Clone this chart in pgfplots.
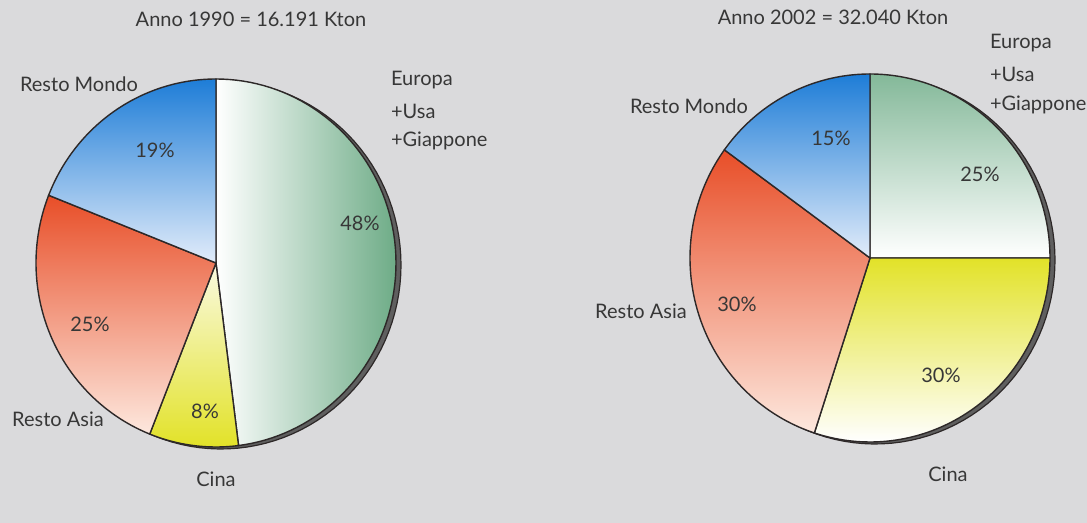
\documentclass[border=0pt]{standalone}
\usepackage{pgfplots}
\pgfplotsset{compat=1.18}
\usepackage{fontspec}
\setmainfont{Lato}

\definecolor{bg}{RGB}{218,218,220}
\definecolor{txt}{RGB}{55,55,55}
\definecolor{edge}{RGB}{45,40,40}
\definecolor{shadowc}{RGB}{95,95,95}
\definecolor{verde}{RGB}{110,172,135}
\definecolor{blu}{RGB}{30,125,215}
\definecolor{blul}{RGB}{226,236,250}
\definecolor{rosso}{RGB}{232,78,40}
\definecolor{rossol}{RGB}{253,232,222}
\definecolor{giallo}{RGB}{226,226,40}
\definecolor{giallol}{RGB}{250,250,225}

% one slice: centre x, centre y, start angle, end angle, style
\newcommand{\fetta}[5]{%
  \addplot[#5, draw=edge, line width=0.7pt, samples=80, domain=#3:#4, variable=\t]
    ({#1+180*cos(\t)}, {#2+184*sin(\t)}) -- (axis cs:#1,#2) -- cycle;
}
\newcommand{\ombra}[2]{%
  \addplot[fill=shadowc, draw=edge, line width=0.6pt, samples=120, domain=0:360, variable=\t]
    ({#1+5+180*cos(\t)}, {#2-2+184*sin(\t)}) -- cycle;
}

\begin{document}
\begin{tikzpicture}[every node/.style={font=\fontsize{10}{12}\selectfont, text=txt}]
\begin{axis}[name=ax,
  width=543.5pt, height=261.5pt, scale only axis,
  xmin=0, xmax=1087, ymin=0, ymax=523,
  hide axis, clip=false]

\fill[bg] (axis cs:0,0) rectangle (axis cs:1087,523);

% Anno 1990: Europa+Usa+Giappone 48, Cina 8, Resto Asia 25, Resto Mondo 19
\ombra{216}{260}
\fetta{216}{260}{-82.8}{90}{left color=white, right color=verde}
\fetta{216}{260}{-111.6}{-82.8}{top color=giallol, bottom color=giallo}
\fetta{216}{260}{-201.6}{-111.6}{top color=rosso, bottom color=rossol}
\fetta{216}{260}{-270}{-201.6}{top color=blu, bottom color=blul}

% Anno 2002: Europa+Usa+Giappone 25, Cina 30, Resto Asia 30, Resto Mondo 15
\ombra{870}{265}
\fetta{870}{265}{0}{90}{top color=verde!85, bottom color=white}
\fetta{870}{265}{-108}{0}{top color=giallo, bottom color=white}
\fetta{870}{265}{-216}{-108}{top color=rosso, bottom color=rossol}
\fetta{870}{265}{-270}{-216}{top color=blu, bottom color=blul}

% labels, left
\node at (axis cs:251,504) {Anno 1990 = 16.191 Kton};
\node at (axis cs:79,439) {Resto Mondo};
\node[anchor=west] at (axis cs:384,443) {Europa};
\node[anchor=west] at (axis cs:384,412) {+Usa};
\node[anchor=west] at (axis cs:384,382) {+Giappone};
\node at (axis cs:155,373) {19\%};
\node at (axis cs:360,300) {48\%};
\node at (axis cs:90,199) {25\%};
\node at (axis cs:205,112) {8\%};
\node at (axis cs:58,104) {Resto Asia};
\node at (axis cs:216,44) {Cina};

% labels, right
\node at (axis cs:833,506) {Anno 2002 = 32.040 Kton};
\node[anchor=west] at (axis cs:983,480) {Europa};
\node[anchor=west] at (axis cs:983,449) {+Usa};
\node[anchor=west] at (axis cs:983,418) {+Giappone};
\node at (axis cs:689,417) {Resto Mondo};
\node at (axis cs:831,385) {15\%};
\node at (axis cs:980,349) {25\%};
\node at (axis cs:737,219) {30\%};
\node at (axis cs:641,212) {Resto Asia};
\node at (axis cs:941,148) {30\%};
\node at (axis cs:948,49) {Cina};
\end{axis}
\pgfresetboundingbox
\useasboundingbox (ax.south west) rectangle (ax.north east);
\end{tikzpicture}
\end{document}
